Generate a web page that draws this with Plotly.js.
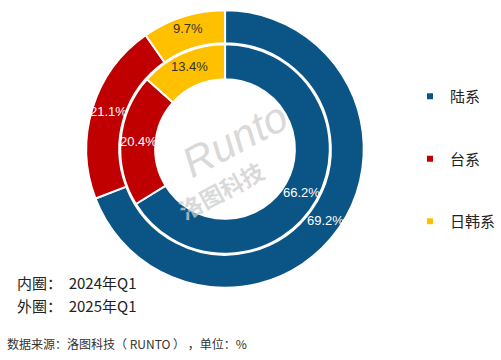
<!DOCTYPE html>
<html><head><meta charset="utf-8">
<script src="https://cdn.plot.ly/plotly-3.0.1.min.js"></script>
<style>html,body{margin:0;padding:0;background:#fff}#chart{width:501px;height:360px}</style>
</head><body><div id="chart"></div>
<script>
const categories = ['陆系', '台系', '日韩系'];
const inner2024 = [66.2, 20.4, 13.4];
const outer2025 = [69.2, 21.1, 9.7];
const colors = ['#0A5585', '#C00000', '#FFC000'];
const textColors = ['#ffffff', '#ffffff', '#333333'];
const noteLines = ['内圈：  2024年Q1', '外圈：  2025年Q1'];
const sourceText = '数据来源：洛图科技（ RUNTO ） ，单位：%';

const W = 501, H = 360, cx = 232, cyTop = 149;
const rOuter = 143, rOuterHole = 109, rInner = 108, rHole = 72;
function dom(r){
  const cy = H - cyTop;
  return {x:[(cx-r)/W,(cx+r)/W], y:[(cy-r)/H,(cy+r)/H]};
}
const pieCommon = {
  type:'pie', labels:categories, sort:false, direction:'clockwise', rotation:0,
  marker:{colors:colors, line:{color:'#ffffff', width:2}},
  textinfo:'none', showlegend:false, hoverinfo:'none'
};
const outer = Object.assign({}, pieCommon, {
  values: outer2025, domain: dom(rOuter), hole: rOuterHole/rOuter
});
const inner = Object.assign({}, pieCommon, {
  values: inner2024, domain: dom(rInner), hole: rHole/rInner
});
const legendTraces = categories.map((c,i)=>({
  type:'scatter', mode:'markers', x:[null], y:[null], name:c,
  legendgroup:'g'+i, marker:{symbol:'square', size:6, color:colors[i]},
  showlegend:true, hoverinfo:'none'
}));

const annotations = [];
// slice labels at mid-angle, mid-radius of each ring
function sliceLabels(values, r0, r1){
  const tot = values.reduce((a,b)=>a+b,0);
  let cum = 0;
  const rm = (r0+r1)/2;
  values.forEach((v,i)=>{
    const a = (cum + v/2)/tot*2*Math.PI; cum += v;
    const px = cx + rm*Math.sin(a), py = cyTop - rm*Math.cos(a);
    annotations.push({text:v.toFixed(1)+'%', xref:'paper', yref:'paper',
      x:px/W, y:1-py/H, xanchor:'center', yanchor:'middle', showarrow:false,
      font:{family:'Liberation Sans, Arial, sans-serif', size:13, color:textColors[i]}});
  });
}
sliceLabels(outer2025, 110, 142);
sliceLabels(inner2024, 73, 107);

[{text:noteLines[0], y:282},{text:noteLines[1], y:305}].forEach(a=>annotations.push({
  text:a.text, xref:'paper', yref:'paper', x:15/W, y:1-a.y/H,
  xanchor:'left', yanchor:'middle', showarrow:false,
  font:{family:'Noto Sans CJK SC, sans-serif', size:15, color:'#222'}}));
annotations.push({text:sourceText, xref:'paper', yref:'paper', x:5/W, y:1-343/H,
  xanchor:'left', yanchor:'middle', showarrow:false,
  font:{family:'Noto Sans CJK SC, sans-serif', size:12, color:'#333'}});
// watermark
annotations.push({text:'<i>Runto</i>', xref:'paper', yref:'paper', x:242/W, y:1-140/H,
  showarrow:false, textangle:-28,
  font:{family:'Liberation Sans, Arial, sans-serif', size:42, color:'rgba(205,205,205,0.75)'}});
annotations.push({text:'<b>洛图科技</b>', xref:'paper', yref:'paper', x:228/W, y:1-190/H,
  showarrow:false, textangle:-28,
  font:{family:'Noto Sans CJK SC, sans-serif', size:23, color:'rgba(205,205,205,0.75)'}});

const layout = {
  width:W, height:H, margin:{l:0,r:0,t:0,b:0},
  paper_bgcolor:'#fff', plot_bgcolor:'#fff',
  xaxis:{visible:false, domain:[0.85,0.86]}, yaxis:{visible:false, domain:[0.5,0.51]},
  showlegend:true,
  legend:{x:423/W, y:1-80/H, xanchor:'left', yanchor:'top',
    traceorder:'grouped', tracegroupgap:40, itemwidth:30,
    font:{family:'Noto Sans CJK SC, sans-serif', size:15, color:'#222'},
    bgcolor:'rgba(0,0,0,0)'},
  annotations: annotations
};
Plotly.newPlot('chart', [outer, inner].concat(legendTraces), layout, {displayModeBar:false, staticPlot:true});
</script></body></html>
